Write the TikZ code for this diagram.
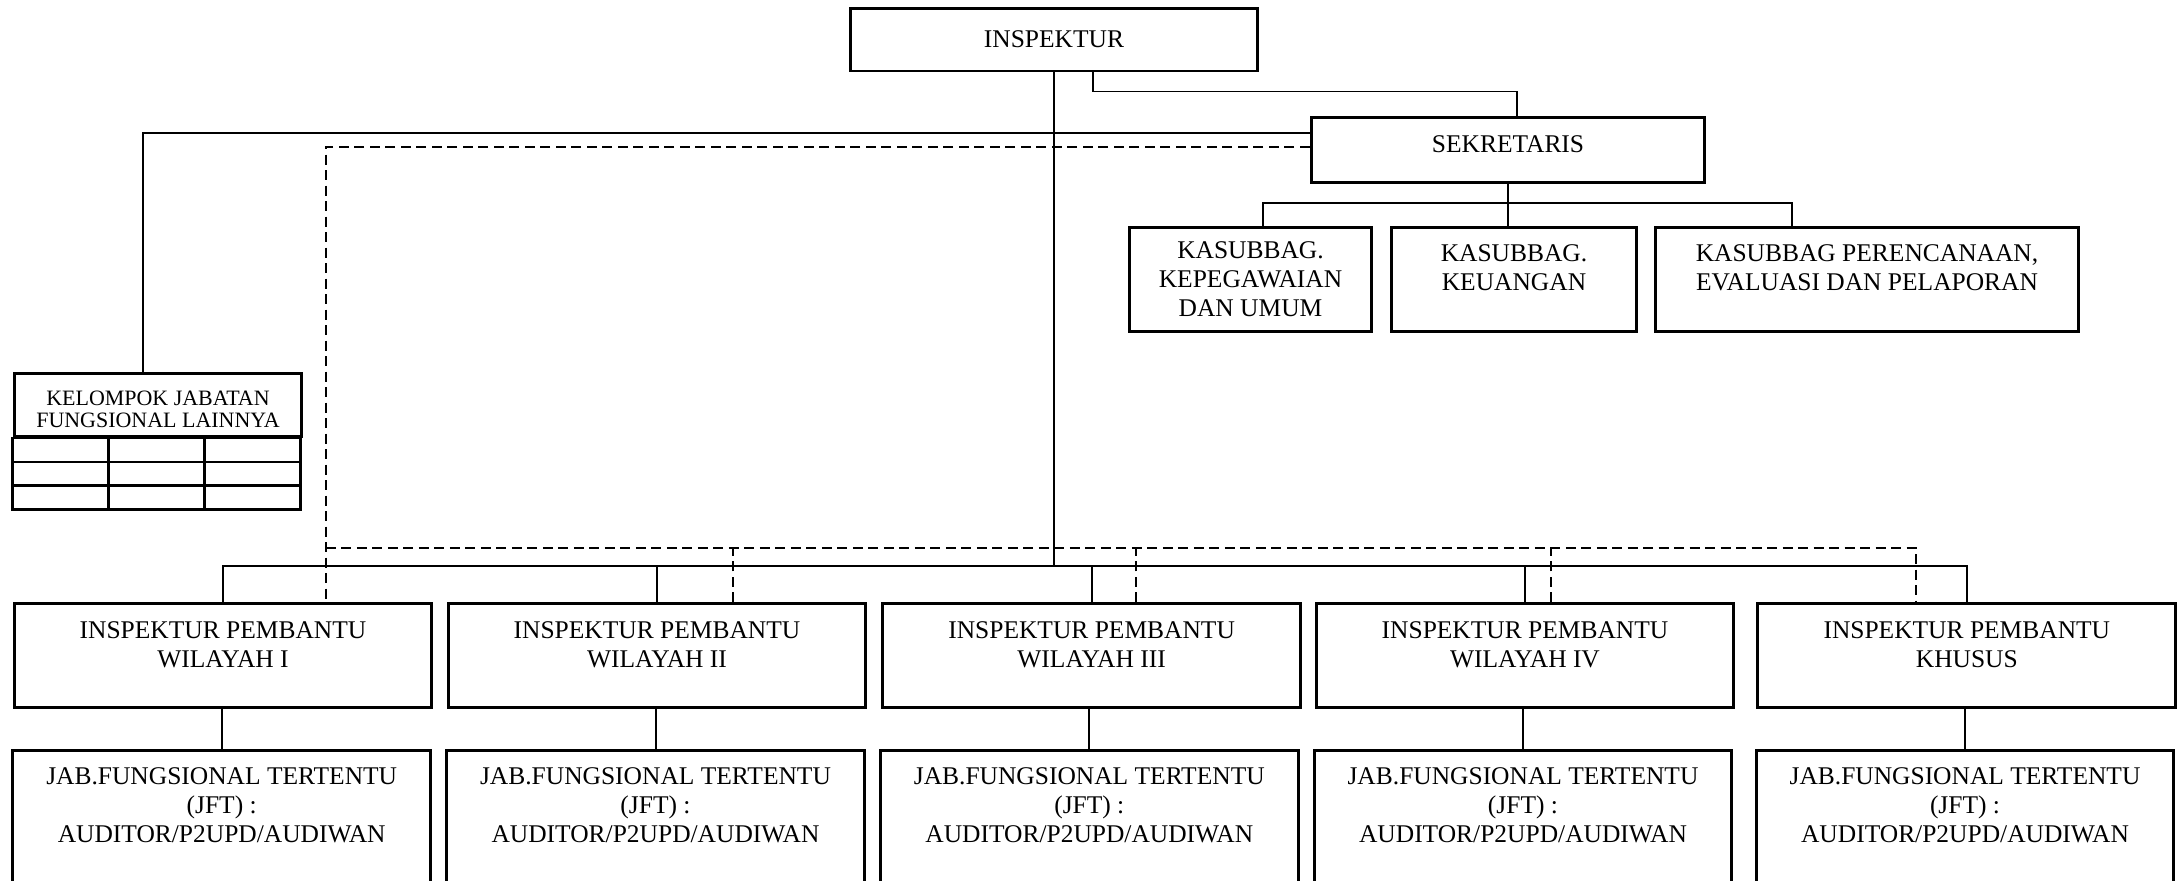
\documentclass[tikz,border=0pt]{standalone}
\usepackage{fontspec}
\setmainfont{Liberation Serif}
\usetikzlibrary{calc}

\tikzset{
	box/.style={draw, line width=0.6mm, align=center, inner sep=0pt, font=\fontsize{14.5}{16.5}\selectfont},
	cell/.style={line width=0.5mm},
	link/.style={line width=0.4mm},
	dlink/.style={line width=0.4mm, dash pattern=on 2mm off 1.1mm},
}

\begin{document}
\begin{tikzpicture}[x=0.02cm, y=-0.02cm]
			%%%%% START %%%%%
			\clip (0, 0) rectangle (2182, 880);
			
			\node[box, minimum width=8.16cm, minimum height=1.26cm] (insp) at (1054, 39.5) {INSPEKTUR};
			\node[box, minimum width=7.88cm, minimum height=1.3cm] (sek) at (1508, 149.5) {\raisebox{0.22cm}{SEKRETARIS}};
			
			\node[box, minimum width=4.86cm, minimum height=2.08cm] (kepeg) at (1250.5, 279) {KASUBBAG.\\KEPEGAWAIAN\\DAN UMUM};
			\node[box, minimum width=4.91cm, minimum height=2.08cm] (keu) at (1514, 279) {KASUBBAG.\\KEUANGAN\\[-8.5pt]\strut};
			\node[box, minimum width=8.48cm, minimum height=2.08cm] (renc) at (1867, 279) {KASUBBAG PERENCANAAN,\\EVALUASI DAN PELAPORAN\\[-8.5pt]\strut};
			
			\node[box, font=\fontsize{12.5}{13}\selectfont, minimum width=5.76cm, minimum height=1.254cm] (kel) at (158, 405.3) {KELOMPOK JABATAN\\FUNGSIONAL LAINNYA\\[-21.4pt]\strut};
			\foreach \r in {0,1,2}
				\foreach \c in {0,1,2}
					\draw[cell] ($(kel.south west)+(96*\c, 23.7*\r)$) rectangle ++(96, 23.7);
			
			\foreach \i/\cx/\jx/\wil in {1/223/221.7/WILAYAH I, 2/657/655.5/WILAYAH II, 3/1091.6/1089.3/WILAYAH III, 4/1525/1523/WILAYAH IV, 5/1966.8/1965/KHUSUS} {
				\node[box, minimum width=8.36cm, minimum height=2.07cm] (ip\i) at (\cx, 655.5) {INSPEKTUR PEMBANTU\\\wil\\[-9pt]\strut};
				\node[box, minimum width=8.36cm, minimum height=2.78cm] (jft\i) at (\jx, 819.5) {JAB.FUNGSIONAL TERTENTU\\(JFT) :\\AUDITOR/P2UPD/AUDIWAN\\[-5pt]\strut};
				\draw[link] (jft\i.north |- ip\i.south) -- (jft\i.north);
			}
			
			% garis komando
			\coordinate (bus) at ($(ip1.north)+(0,-36)$);
			\draw[link] (insp.south) -- (insp.south |- bus);
			\draw[link] (ip1.north) -- (bus) -| (ip5.north);
			\foreach \i in {2,3,4}
				\draw[link] (ip\i.north) -- ++(0,-36);
			
			\draw[link] ([xshift=0.78cm]insp.south) -- ++(0,19) -| ([xshift=0.18cm]sek.north);
			\draw[link] ([yshift=0.33cm]sek.west) -| ([xshift=-0.31cm]kel.north);
			
			\draw[link] (sek.south) -- (sek.south |- keu.north);
			\draw[link] ([xshift=0.24cm]kepeg.north) -- ++(0,-23) -| ([xshift=-1.5cm]renc.north);
			
			% garis koordinasi
			\draw[dlink] ([yshift=0.06cm]sek.west) -| ([xshift=2.06cm]ip1.north);
			\draw[dlink] ([xshift=2.06cm, yshift=1.09cm]ip1.north) -| ([xshift=-1.02cm]ip5.north);
			\draw[dlink] ([xshift=1.52cm]ip2.north) -- ++(0,-54.7);
			\draw[dlink] ([xshift=0.89cm]ip3.north) -- ++(0,-54.7);
			\draw[dlink] ([xshift=0.52cm]ip4.north) -- ++(0,-54.7);
			
			%%%%% END %%%%%
\end{tikzpicture}
\end{document}
